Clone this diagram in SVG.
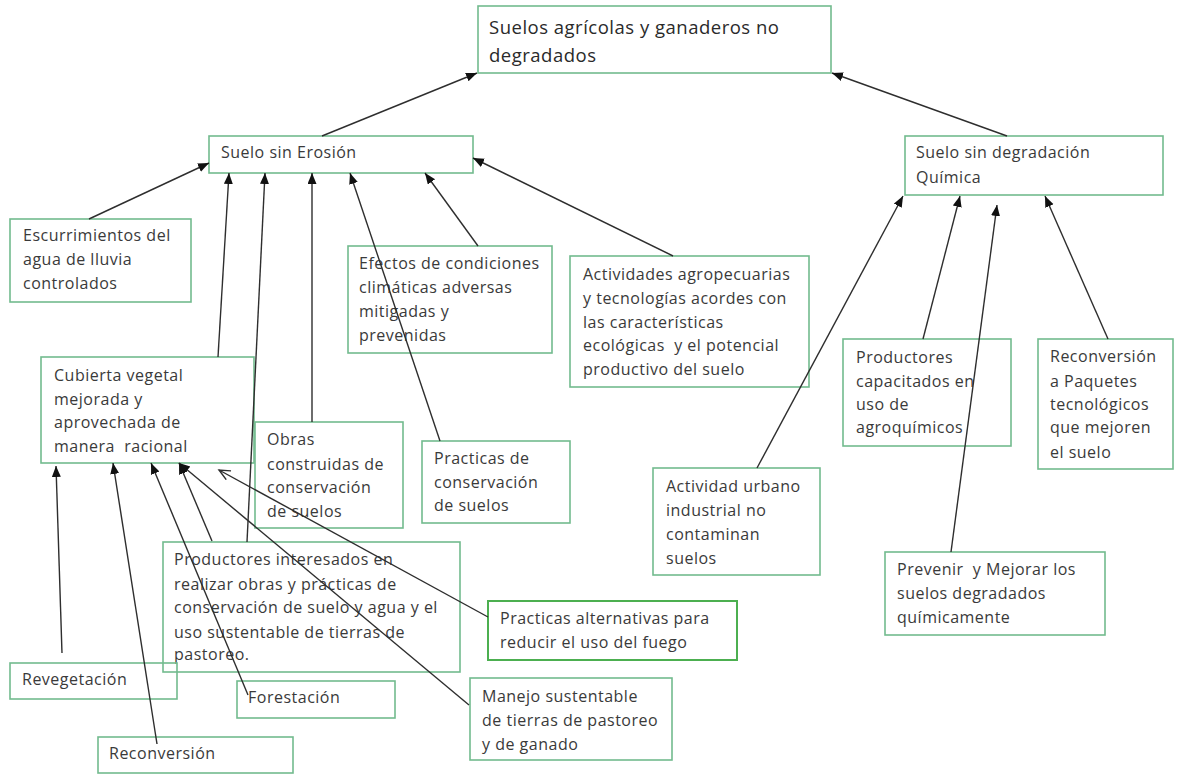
<svg xmlns="http://www.w3.org/2000/svg" width="1177" height="777" viewBox="0 0 1177 777">
<defs>
<style>
.box{fill:none;stroke:#72bb8e;stroke-width:1.6}
.box2{fill:none;stroke:#4caf50;stroke-width:2}
.t{font-family:"Open Sans","Liberation Sans",sans-serif;font-size:16px;fill:#3a3a3a;letter-spacing:0.5px;white-space:pre}
.tt{font-family:"Open Sans","Liberation Sans",sans-serif;font-size:18.5px;fill:#2a2a2a;letter-spacing:0.5px;white-space:pre}
.c{stroke:#2e2e2e;stroke-width:1.4;fill:none}
</style>
<marker id="ah" markerUnits="userSpaceOnUse" markerWidth="12" markerHeight="10" refX="11" refY="4.5" orient="auto">
<path d="M0,0 L11,4.5 L0,9 z" fill="#111"/>
</marker>
<marker id="ao" markerUnits="userSpaceOnUse" markerWidth="14" markerHeight="12" refX="12" refY="5.5" orient="auto">
<path d="M1,0.5 L12,5.5 L1,10.5" fill="none" stroke="#2e2e2e" stroke-width="1.4"/>
</marker>
</defs>
<rect width="1177" height="777" fill="#fff"/>

<g id="n-top">
<rect class="box" x="478" y="6" width="353" height="67"/>
<text class="tt" x="489" y="34">Suelos agrícolas y ganaderos no</text>
<text class="tt" x="489" y="62">degradados</text>
</g>

<g id="n-erosion">
<rect class="box" x="209" y="136" width="264" height="37"/>
<text class="t" x="221" y="158">Suelo sin Erosión</text>
</g>

<g id="n-quimica">
<rect class="box" x="905" y="136" width="258" height="59"/>
<text class="t" x="916" y="158">Suelo sin degradación</text>
<text class="t" x="916" y="183">Química</text>
</g>

<g id="n-escurrimientos">
<rect class="box" x="10" y="219" width="181" height="83"/>
<text class="t" x="23" y="241">Escurrimientos del</text>
<text class="t" x="23" y="265">agua de lluvia</text>
<text class="t" x="23" y="289">controlados</text>
</g>

<g id="n-efectos">
<rect class="box" x="348" y="246" width="204" height="107"/>
<text class="t" x="359" y="269">Efectos de condiciones</text>
<text class="t" x="359" y="293">climáticas adversas</text>
<text class="t" x="359" y="317">mitigadas y</text>
<text class="t" x="359" y="341">prevenidas</text>
</g>

<g id="n-actividades">
<rect class="box" x="570" y="256" width="239" height="131"/>
<text class="t" x="583" y="280">Actividades agropecuarias</text>
<text class="t" x="583" y="304">y tecnologías acordes con</text>
<text class="t" x="583" y="328">las características</text>
<text class="t" x="583" y="351">ecológicas  y el potencial</text>
<text class="t" x="583" y="375">productivo del suelo</text>
</g>

<g id="n-cubierta">
<rect class="box" x="41" y="357" width="213" height="106"/>
<text class="t" x="54" y="381">Cubierta vegetal</text>
<text class="t" x="54" y="405">mejorada y</text>
<text class="t" x="54" y="428">aprovechada de</text>
<text class="t" x="54" y="452">manera  racional</text>
</g>

<g id="n-obras">
<rect class="box" x="255" y="422" width="148" height="106"/>
<text class="t" x="267" y="445">Obras</text>
<text class="t" x="267" y="470">construidas de</text>
<text class="t" x="267" y="493">conservación</text>
<text class="t" x="267" y="517">de suelos</text>
</g>

<g id="n-practicas">
<rect class="box" x="422" y="441" width="148" height="82"/>
<text class="t" x="434" y="464">Practicas de</text>
<text class="t" x="434" y="488">conservación</text>
<text class="t" x="434" y="511">de suelos</text>
</g>

<g id="n-productores-interesados">
<rect class="box" x="163" y="542" width="297" height="130"/>
<text class="t" x="174" y="565">Productores interesados en</text>
<text class="t" x="174" y="590">realizar obras y prácticas de</text>
<text class="t" x="174" y="613">conservación de suelo y agua y el</text>
<text class="t" x="174" y="638">uso sustentable de tierras de</text>
<text class="t" x="174" y="660">pastoreo.</text>
</g>

<g id="n-revegetacion">
<rect class="box" x="10" y="663" width="167" height="36"/>
<text class="t" x="22" y="685">Revegetación</text>
</g>

<g id="n-forestacion">
<rect class="box" x="237" y="681" width="158" height="37"/>
<text class="t" x="248" y="703">Forestación</text>
</g>

<g id="n-reconversion">
<rect class="box" x="98" y="737" width="195" height="36"/>
<text class="t" x="109" y="759">Reconversión</text>
</g>

<g id="n-practicas-alternativas">
<rect class="box2" x="488" y="601" width="249" height="59"/>
<text class="t" x="500" y="624">Practicas alternativas para</text>
<text class="t" x="500" y="648">reducir el uso del fuego</text>
</g>

<g id="n-manejo">
<rect class="box" x="470" y="678" width="202" height="82"/>
<text class="t" x="482" y="702">Manejo sustentable</text>
<text class="t" x="482" y="726">de tierras de pastoreo</text>
<text class="t" x="482" y="750">y de ganado</text>
</g>

<g id="n-actividad-urbano">
<rect class="box" x="653" y="468" width="167" height="107"/>
<text class="t" x="666" y="492">Actividad urbano</text>
<text class="t" x="666" y="516">industrial no</text>
<text class="t" x="666" y="540">contaminan</text>
<text class="t" x="666" y="564">suelos</text>
</g>

<g id="n-productores-capacitados">
<rect class="box" x="843" y="339" width="168" height="107"/>
<text class="t" x="856" y="363">Productores</text>
<text class="t" x="856" y="387">capacitados en</text>
<text class="t" x="856" y="410">uso de</text>
<text class="t" x="856" y="433">agroquímicos</text>
</g>

<g id="n-reconversion-paquetes">
<rect class="box" x="1038" y="339" width="135" height="130"/>
<text class="t" x="1050" y="362">Reconversión</text>
<text class="t" x="1050" y="387">a Paquetes</text>
<text class="t" x="1050" y="410">tecnológicos</text>
<text class="t" x="1050" y="433">que mejoren</text>
<text class="t" x="1050" y="458">el suelo</text>
</g>

<g id="n-prevenir">
<rect class="box" x="885" y="552" width="220" height="83"/>
<text class="t" x="897" y="575">Prevenir  y Mejorar los</text>
<text class="t" x="897" y="599">suelos degradados</text>
<text class="t" x="897" y="623">químicamente</text>
</g>

<g id="connectors">
<line class="c" x1="322" y1="136" x2="477" y2="73" marker-end="url(#ah)"/>
<line class="c" x1="1007" y1="136" x2="832" y2="73" marker-end="url(#ah)"/>
<line class="c" x1="89" y1="219" x2="209" y2="163" marker-end="url(#ah)"/>
<line class="c" x1="218" y1="357" x2="229" y2="173" marker-end="url(#ah)"/>
<line class="c" x1="247" y1="542" x2="265" y2="173" marker-end="url(#ah)"/>
<line class="c" x1="312" y1="422" x2="312" y2="173" marker-end="url(#ah)"/>
<line class="c" x1="440" y1="441" x2="350" y2="173" marker-end="url(#ah)"/>
<line class="c" x1="478" y1="246" x2="425" y2="173" marker-end="url(#ah)"/>
<line class="c" x1="673" y1="256" x2="473" y2="158" marker-end="url(#ah)"/>
<line class="c" x1="62" y1="653" x2="56" y2="466" marker-end="url(#ah)"/>
<line class="c" x1="157" y1="744" x2="113" y2="463" marker-end="url(#ah)"/>
<line class="c" x1="248" y1="695" x2="151" y2="463" marker-end="url(#ah)"/>
<line class="c" x1="212" y1="541" x2="179" y2="463" marker-end="url(#ah)"/>
<line class="c" x1="469" y1="705" x2="179" y2="463" marker-end="url(#ah)"/>
<line class="c" x1="488" y1="617" x2="219" y2="470" marker-end="url(#ao)"/>
<line class="c" x1="757" y1="468" x2="903" y2="196" marker-end="url(#ah)"/>
<line class="c" x1="923" y1="339" x2="960" y2="196" marker-end="url(#ah)"/>
<line class="c" x1="951" y1="552" x2="997" y2="205" marker-end="url(#ah)"/>
<line class="c" x1="1108" y1="339" x2="1045" y2="196" marker-end="url(#ah)"/>
</g>
</svg>
